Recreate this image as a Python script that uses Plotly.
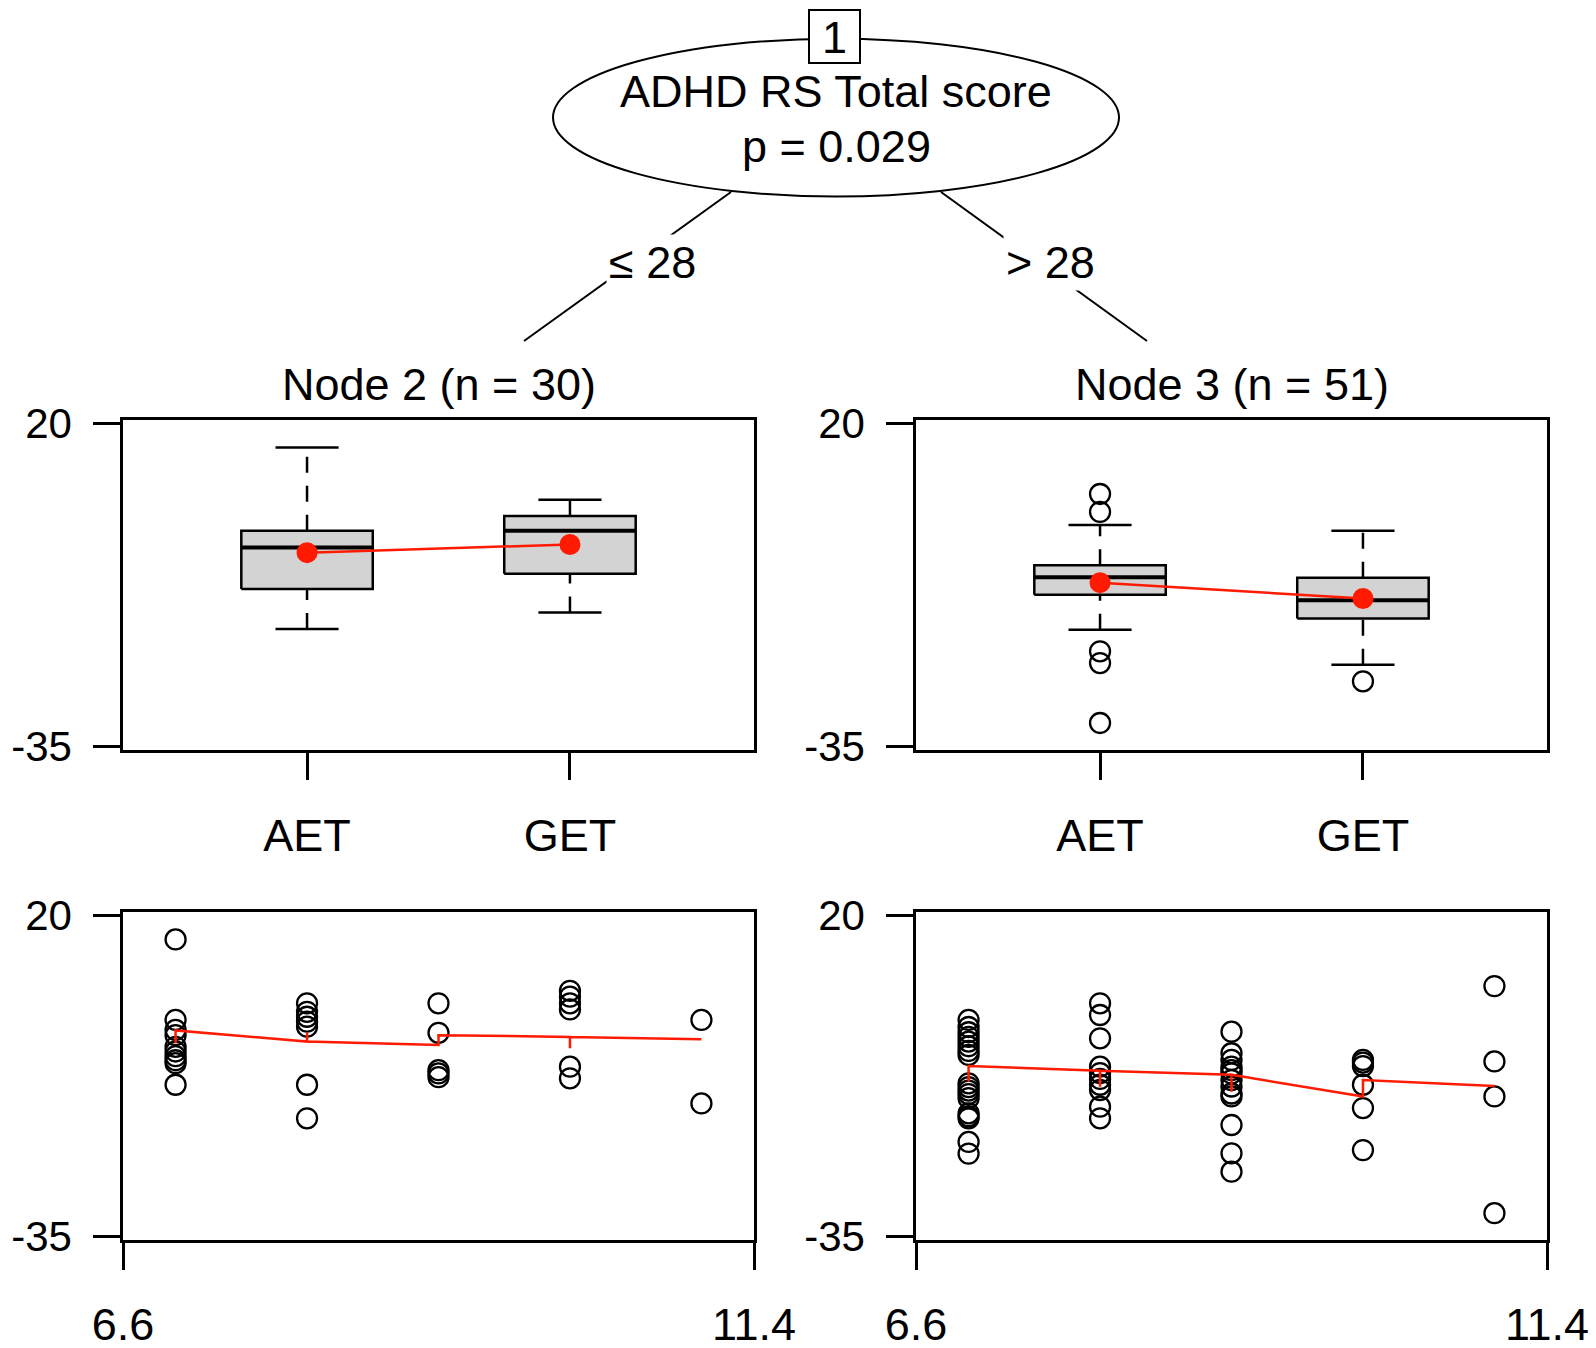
import plotly.graph_objects as go

FONT = "Liberation Sans, Arial, Helvetica, sans-serif"
# the page body has an 8px margin, so the figure is sized to fit the window
OFF = 8
W, H = 1596 - 2 * OFF + 8, 1348 - 2 * OFF + 8
RED = "#FF1A00"

# ---------------- data ----------------
groups = ["AET", "GET"]
group_pos = [1, 2]

# Node 2 (n = 30) boxplot statistics
node2_upper = [15.9, 7.0]
node2_q3 = [1.75, 4.25]
node2_median = [-1.1, 1.75]
node2_q1 = [-8.2, -5.6]
node2_lower = [-15.0, -12.2]
node2_mean = [-2.0, -0.6]
node2_out_group = []
node2_out_value = []

# Node 3 (n = 51) boxplot statistics
node3_upper = [2.7, 1.75]
node3_q3 = [-4.15, -6.25]
node3_median = [-6.2, -10.1]
node3_q1 = [-9.15, -13.2]
node3_lower = [-15.1, -21.1]
node3_mean = [-7.1, -9.8]
node3_out_group = ["AET", "AET", "AET", "AET", "AET", "GET"]
node3_out_value = [8.0, 4.95, -18.8, -20.8, -31.0, -23.9]

# Node 2 scatter (age vs score)
node2_age = [7, 7, 7, 7, 7, 7, 7, 7, 7, 7,
             8, 8, 8, 8, 8, 8, 8,
             9, 9, 9, 9, 9,
             10, 10, 10, 10, 10, 10,
             11, 11]
node2_score = [15.9, 2.1, 0.4, -0.5, -2.5, -3.3, -4.1, -4.8, -5.3, -9.0,
               4.95, 3.5, 2.65, 1.8, 0.95, -9.0, -14.75,
               4.95, -0.1, -6.5, -7.05, -7.7,
               7.1, 6.1, 4.95, 3.9, -5.9, -7.9,
               2.1, -12.2]
node2_fit_age = [7, 7, 8, 8, 8, 9, 9, 10, 10, 10, 11]
node2_fit_score = [-1.9, 0.3, -1.6, -0.1, -1.6, -2.2, -0.5, -0.8, -2.75, -0.8, -1.2]

# Node 3 scatter (age vs score)
node3_age = [7, 7, 7, 7, 7, 7, 7, 7, 7, 7, 7, 7, 7, 7, 7, 7, 7, 7,
             8, 8, 8, 8, 8, 8, 8, 8, 8, 8,
             9, 9, 9, 9, 9, 9, 9, 9, 9, 9, 9, 9, 9,
             10, 10, 10, 10, 10, 10,
             11, 11, 11, 11]
node3_score = [2.1, 0.9, 0.0, -0.8, -1.6, -2.4, -3.2, -3.9, -8.75, -9.4, -10.0, -10.6, -11.3,
               -13.9, -14.4, -14.75, -18.8, -20.8,
               4.95, 2.95, -1.05, -5.9, -7.0, -8.0, -9.0, -9.9, -12.75, -14.75,
               0.1, -3.6, -4.75, -5.9, -6.5, -7.05, -8.2, -9.3, -10.5, -11.0, -15.9, -20.75, -23.9,
               -4.75, -5.2, -5.8, -9.0, -13.0, -20.2,
               7.9, -5.0, -11.0, -31.0]
node3_fit_age = [7, 7, 8, 8, 8, 9, 9, 9, 10, 10, 11]
node3_fit_score = [-8.5, -5.8, -6.6, -9.35, -6.6, -7.3, -10.2, -7.3, -11.0, -8.2, -9.2]

y_ticks = [20, -35]
y_ticklabels = ["20", "-35"]
age_ticks = [6.6, 11.4]
age_ticklabels = ["6.6", "11.4"]

split_var = "ADHD RS Total score"
split_p = "p = 0.029"
split_left = "≤ 28"
split_right = "> 28"
node_titles = ["Node 2 (n = 30)", "Node 3 (n = 51)"]

# ---------------- figure ----------------
fig = go.Figure()


def line_trace(x, y, xa, ya, color="black", width=2.5, dash=None):
    return go.Scatter(x=x, y=y, xaxis=xa, yaxis=ya, mode="lines",
                      line=dict(color=color, width=width, dash=dash),
                      showlegend=False, hoverinfo="skip")


OPEN_MARKER = dict(symbol="circle-open", size=20, color="black",
                   line=dict(width=2.3, color="black"))


def add_boxes(upper, q3, med, q1, lower, mean, out_g, out_v, xa, ya):
    hw, cw = 0.25, 0.12
    for i, g in enumerate(groups):
        c = group_pos[i]
        # box
        fig.add_trace(go.Scatter(
            x=[c - hw, c + hw, c + hw, c - hw, c - hw],
            y=[q1[i], q1[i], q3[i], q3[i], q1[i]],
            xaxis=xa, yaxis=ya, mode="lines", fill="toself",
            fillcolor="#D3D3D3", line=dict(color="black", width=2.5),
            showlegend=False, hoverinfo="skip"))
        # median
        fig.add_trace(line_trace([c - hw, c + hw], [med[i], med[i]], xa, ya, width=4))
        # whiskers (dashed)
        fig.add_trace(line_trace([c, c], [lower[i], q1[i]], xa, ya, dash="16px,13px"))
        fig.add_trace(line_trace([c, c], [q3[i], upper[i]], xa, ya, dash="16px,13px"))
        # caps
        fig.add_trace(line_trace([c - cw, c + cw], [upper[i], upper[i]], xa, ya))
        fig.add_trace(line_trace([c - cw, c + cw], [lower[i], lower[i]], xa, ya))
    # outliers
    if out_v:
        fig.add_trace(go.Scatter(
            x=[group_pos[groups.index(g)] for g in out_g], y=out_v,
            xaxis=xa, yaxis=ya, mode="markers", marker=OPEN_MARKER,
            showlegend=False, hoverinfo="skip"))
    # means
    fig.add_trace(go.Scatter(
        x=group_pos, y=mean, xaxis=xa, yaxis=ya, mode="lines+markers",
        line=dict(color=RED, width=2.5),
        marker=dict(symbol="circle", size=21, color=RED),
        showlegend=False, hoverinfo="skip"))


def add_scatter(age, score, fit_age, fit_score, xa, ya):
    fig.add_trace(go.Scatter(
        x=age, y=score, xaxis=xa, yaxis=ya, mode="markers", marker=OPEN_MARKER,
        showlegend=False, hoverinfo="skip"))
    fig.add_trace(line_trace(fit_age, fit_score, xa, ya, color=RED, width=2.5))


add_boxes(node2_upper, node2_q3, node2_median, node2_q1, node2_lower, node2_mean,
          node2_out_group, node2_out_value, "x", "y")
add_boxes(node3_upper, node3_q3, node3_median, node3_q1, node3_lower, node3_mean,
          node3_out_group, node3_out_value, "x2", "y2")
add_scatter(node2_age, node2_score, node2_fit_age, node2_fit_score, "x3", "y3")
add_scatter(node3_age, node3_score, node3_fit_age, node3_fit_score, "x4", "y4")


# page-pixel positions -> paper fractions (figure starts at OFF, OFF on the page)
def px_x(v):
    return (v - OFF) / W


def px_y(v):
    return 1 - (v - OFF) / H


FS = 45
common = dict(showline=True, mirror=True, linecolor="black", linewidth=2.5,
              ticks="outside", ticklen=27, tickwidth=2.5, tickcolor="black",
              showgrid=False, zeroline=False, fixedrange=True,
              automargin=False)

dom_left = [px_x(123), px_x(754)]
dom_right = [px_x(916), px_x(1547)]
dom_top = [px_y(750), px_y(420)]
dom_bot = [px_y(1240), px_y(912)]
yr = [-35.6, 20.6]

layout_axes = {}
for n, (dx, dy) in enumerate([(dom_left, dom_top), (dom_right, dom_top),
                              (dom_left, dom_bot), (dom_right, dom_bot)], start=1):
    xn = "xaxis" if n == 1 else f"xaxis{n}"
    yn = "yaxis" if n == 1 else f"yaxis{n}"
    ya = "y" if n == 1 else f"y{n}"
    xa = "x" if n == 1 else f"x{n}"
    if n <= 2:
        xcfg = dict(range=[0.3, 2.7], tickvals=group_pos, ticktext=groups,
                    ticklabelstandoff=17)
    else:
        xcfg = dict(range=[6.6, 11.4], tickvals=age_ticks, ticktext=age_ticklabels,
                    ticklabelstandoff=16)
    layout_axes[xn] = dict(domain=dx, anchor=ya,
                           tickfont=dict(family=FONT, size=FS, color="black"),
                           **xcfg, **common)
    layout_axes[yn] = dict(domain=dy, anchor=xa, range=yr, tickvals=y_ticks,
                           ticktext=y_ticklabels, ticklabelstandoff=13,
                           tickfont=dict(family=FONT, size=42, color="black"),
                           **common)

shapes = [
    # edges from root to daughter nodes
    dict(type="line", xref="paper", yref="paper",
         x0=px_x(731), y0=px_y(192), x1=px_x(524), y1=px_y(341),
         line=dict(color="black", width=2)),
    dict(type="line", xref="paper", yref="paper",
         x0=px_x(941), y0=px_y(192), x1=px_x(1147), y1=px_y(341),
         line=dict(color="black", width=2)),
    # root ellipse
    dict(type="circle", xref="paper", yref="paper",
         x0=px_x(553), x1=px_x(1119), y0=px_y(196.5), y1=px_y(38.7),
         line=dict(color="black", width=2), fillcolor="white"),
    # node id box
    dict(type="rect", xref="paper", yref="paper",
         x0=px_x(809), x1=px_x(860), y0=px_y(63), y1=px_y(10),
         line=dict(color="black", width=2), fillcolor="white"),
]

txt = dict(family=FONT, size=FS, color="black")
annotations = [
    dict(text="1", x=px_x(834.5), y=px_y(37), xref="paper", yref="paper",
         showarrow=False, font=txt, xanchor="center", yanchor="middle"),
    dict(text=split_var, x=px_x(836), y=px_y(92), xref="paper", yref="paper",
         showarrow=False, font=txt, xanchor="center", yanchor="middle"),
    dict(text=split_p, x=px_x(836), y=px_y(146), xref="paper", yref="paper",
         showarrow=False, font=txt, xanchor="center", yanchor="middle"),
    dict(text=split_left, x=px_x(652), y=px_y(262), xref="paper", yref="paper",
         showarrow=False, font=txt, xanchor="center", yanchor="middle",
         bgcolor="white", borderpad=2),
    dict(text=split_right, x=px_x(1050), y=px_y(262), xref="paper", yref="paper",
         showarrow=False, font=txt, xanchor="center", yanchor="middle",
         bgcolor="white", borderpad=2),
    dict(text=node_titles[0], x=px_x(438.5), y=px_y(384), xref="paper", yref="paper",
         showarrow=False, font=txt, xanchor="center", yanchor="middle"),
    dict(text=node_titles[1], x=px_x(1231.5), y=px_y(384), xref="paper", yref="paper",
         showarrow=False, font=txt, xanchor="center", yanchor="middle"),
]

fig.update_layout(
    width=W, height=H, autosize=False,
    margin=dict(l=0, r=0, t=0, b=0, pad=0, autoexpand=False),
    paper_bgcolor="white", plot_bgcolor="white",
    showlegend=False, font=dict(family=FONT, color="black"),
    shapes=shapes, annotations=annotations,
    **layout_axes,
)

fig.write_html("out.html")
